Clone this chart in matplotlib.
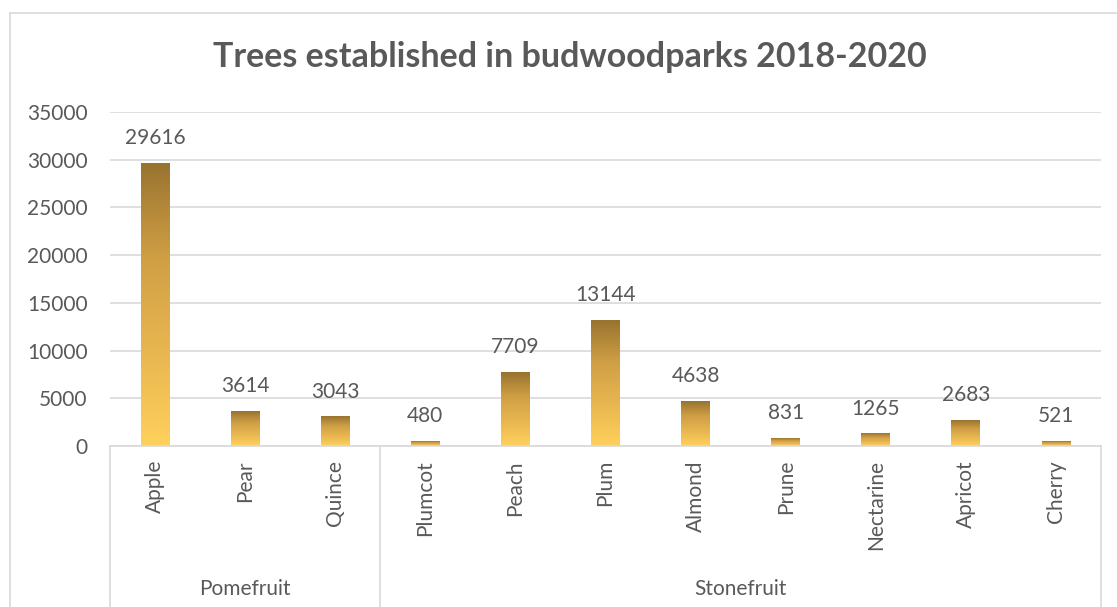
import numpy as np
import matplotlib
matplotlib.use("Agg")
import matplotlib.pyplot as plt
from matplotlib.colors import LinearSegmentedColormap
from matplotlib.lines import Line2D

# data
categories = ['Apple', 'Pear', 'Quince', 'Plumcot', 'Peach', 'Plum', 'Almond',
              'Prune', 'Nectarine', 'Apricot', 'Cherry']
values = [29616, 3614, 3043, 480, 7709, 13144, 4638, 831, 1265, 2683, 521]
groups = ['Pomefruit', 'Stonefruit']
group_sizes = [3, 8]

plt.rcParams['font.family'] = ['Lato', 'DejaVu Sans']
txt = '#595959'
grid_c = '#D9D9D9'
fs = 15

W, H = 1117, 607
fig = plt.figure(figsize=(W / 100, H / 100), dpi=100)
left, right, top, bottom = 110, 1101, 112, 446
ax = fig.add_axes([left / W, 1 - bottom / H, (right - left) / W, (bottom - top) / H])

# chart border (left + top visible)
fig.add_artist(Line2D([10 / W, 10 / W], [0, 1 - 13 / H], transform=fig.transFigure, color=grid_c, lw=1.2))
fig.add_artist(Line2D([10 / W, 1], [1 - 13 / H, 1 - 13 / H], transform=fig.transFigure, color=grid_c, lw=1.2))

cmap = LinearSegmentedColormap.from_list('gold', ['#FFD15C', '#E8B650', '#D09F45', '#98732F'])
grad = np.linspace(0, 1, 256).reshape(-1, 1)
bw = 0.32
x = np.arange(len(categories))
for xi, v in zip(x, values):
    ax.imshow(grad, extent=(xi - bw / 2, xi + bw / 2, 0, v), aspect='auto',
              cmap=cmap, origin='lower', zorder=2, interpolation='bilinear')
    ax.annotate(str(v), (xi, v), xytext=(0, 11), textcoords='offset points',
                ha='center', va='bottom', fontsize=fs, color=txt)

ax.set_xlim(-0.5, len(categories) - 0.5)
ax.set_ylim(0, 35000)
ax.set_yticks(np.arange(0, 35001, 5000))
ax.tick_params(axis='y', length=0, pad=16, labelsize=fs, labelcolor=txt)
ax.set_xticks([])
ax.grid(axis='y', color=grid_c, lw=1.2, zorder=0)
ax.set_axisbelow(True)
for s in ['top', 'right', 'left']:
    ax.spines[s].set_visible(False)
ax.spines['bottom'].set_color(grid_c)
ax.spines['bottom'].set_linewidth(1.2)

axh = bottom - top
trans = ax.get_xaxis_transform()
for xi, c in zip(x, categories):
    ax.text(xi, -14 / axh, c, rotation=90, ha='center', va='top', fontsize=fs,
            color=txt, transform=trans)

# group separators and labels
edge = -0.5
seps = [edge]
for g, n in zip(groups, group_sizes):
    ax.text(edge + n / 2, -(589 - bottom) / axh, g, ha='center', va='center',
            fontsize=fs, color=txt, transform=trans)
    edge += n
    seps.append(edge)
for s in seps:
    ax.plot([s, s], [0, -(H - bottom) / axh], color=grid_c, lw=1.2,
            transform=trans, clip_on=False)

fig.text(0.5 * (212 + 928) / W, 1 - 57 / H, 'Trees established in budwoodparks 2018-2020',
         ha='center', va='center', fontsize=24.5, fontweight='bold', color=txt)

fig.savefig('out.png', dpi=100)
